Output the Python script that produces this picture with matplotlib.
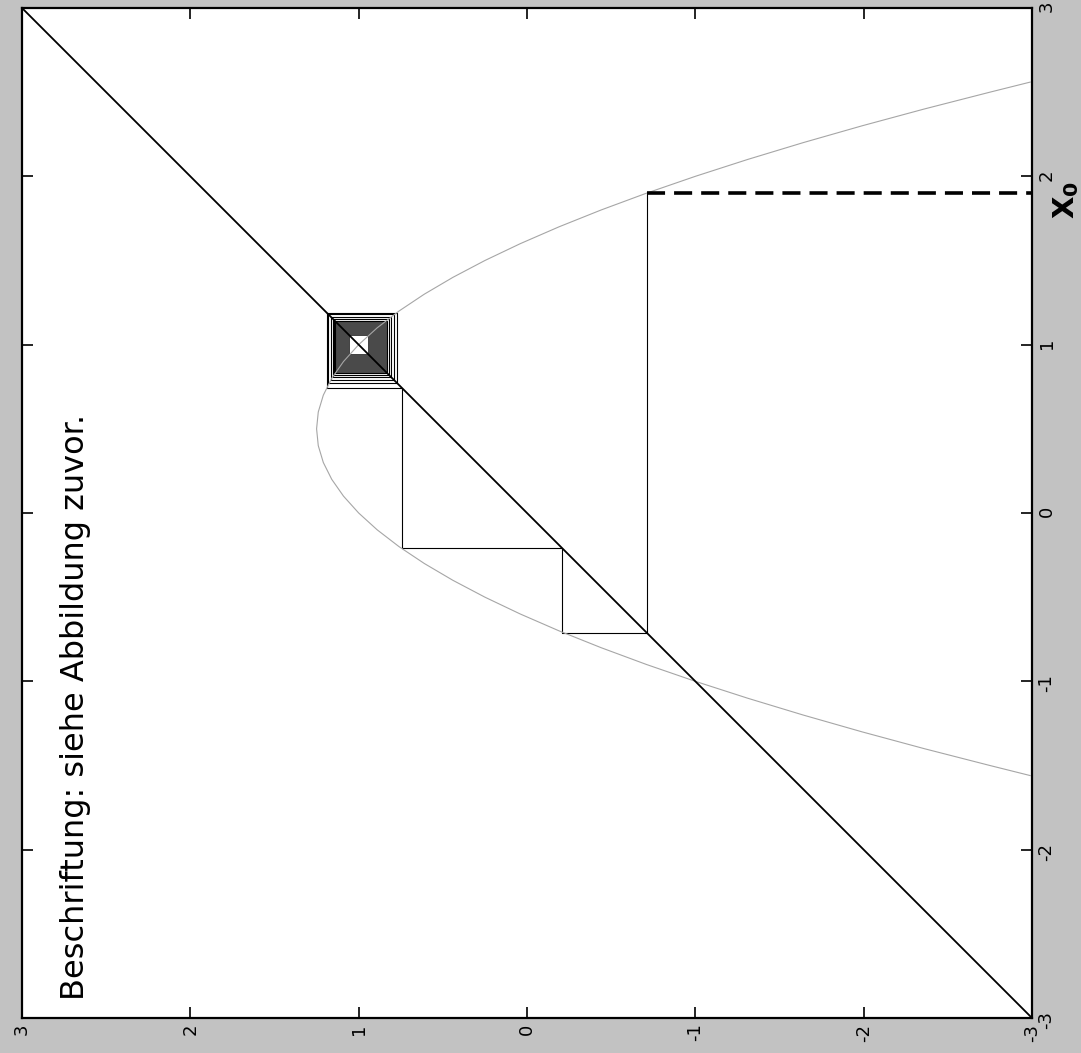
import numpy as np
import matplotlib.pyplot as plt
from matplotlib.patches import Rectangle

plt.rcParams['axes.unicode_minus'] = False

# Parabola: x_n on the vertical axis, x_n+1 on the horizontal one
curve_x = [-1.56, -1.5, -1.4, -1.3, -1.2, -1.1, -1.0, -0.9, -0.8, -0.7, -0.6, -0.5,
           -0.4, -0.3, -0.2, -0.1, 0.0, 0.1, 0.2, 0.3, 0.4, 0.5, 0.6, 0.7, 0.8, 0.9,
           1.0, 1.1, 1.2, 1.3, 1.4, 1.5, 1.6, 1.7, 1.8, 1.9, 2.0, 2.1, 2.2, 2.3, 2.4,
           2.5, 2.56]
curve_y = [-2.99, -2.75, -2.36, -1.99, -1.64, -1.31, -1.0, -0.71, -0.44, -0.19, 0.04, 0.25,
           0.44, 0.61, 0.76, 0.89, 1.0, 1.09, 1.16, 1.21, 1.24, 1.25, 1.24, 1.21, 1.16, 1.09,
           1.0, 0.89, 0.76, 0.61, 0.44, 0.25, 0.04, -0.19, -0.44, -0.71, -1.0, -1.31, -1.64,
           -1.99, -2.36, -2.75, -2.99]

# Cobweb iterates that are still visible as separate lines
orbit = [1.90, -0.71, -0.21, 0.74, 1.19, 0.77, 1.18, 0.79, 1.165, 0.81, 1.155, 0.82, 1.147]

# Dense (dark) core of the cobweb around the fixed point, with the white hole inside
core_lo, core_hi = 0.83, 1.14
hole_lo, hole_hi = 0.945, 1.06

ticks = [-3, -2, -1, 0, 1, 2, 3]
x0_label = r'$\mathbf{X_0}$'
note = 'Beschriftung: siehe Abbildung zuvor.'

# Figure setup (scan is turned 90 degrees, so labels run bottom-to-top)
W, H = 1081, 1053
fig = plt.figure(figsize=(W / 100, H / 100), dpi=100, facecolor='#c2c2c2')
ax = fig.add_axes([22 / W, 1 - 1018 / H, 1010 / W, 1010 / H])
ax.set_facecolor('white')

# cobweb path: (x_n+1, x_n) on the curve -> (x_n+1, x_n+1) on the diagonal
path_h, path_v = [], []
for i in range(1, len(orbit)):
    path_h += [orbit[i], orbit[i]]
    path_v += [orbit[i - 1], orbit[i]]

ax.add_patch(Rectangle((core_lo, core_lo), core_hi - core_lo, core_hi - core_lo,
                       facecolor='#4a4a4a', edgecolor='black', lw=0.8, zorder=2))
ax.add_patch(Rectangle((hole_lo, hole_lo), hole_hi - hole_lo, hole_hi - hole_lo,
                       facecolor='white', edgecolor='#333333', lw=0.6, zorder=2))

ax.plot(path_h, path_v, color='black', lw=0.8, zorder=3)
ax.plot(curve_y, curve_x, color='#a6a6a6', lw=0.8, zorder=4)
ax.plot([ticks[0], ticks[-1]], [ticks[0], ticks[-1]], color='black', lw=1.3, zorder=5)

# dashed marker for the start value
ax.plot([orbit[1], ticks[0]], [orbit[0], orbit[0]], color='black', lw=2.6,
        dashes=(5, 2.5), zorder=5)

ax.set_xlim(3, -3)
ax.set_ylim(-3, 3)
ax.set_xticks(ticks)
ax.set_yticks(ticks)
ax.yaxis.tick_right()
ax.tick_params(direction='in', length=8, width=1.2, top=True, bottom=True,
               left=True, right=True, labelleft=False, labelright=True,
               labelsize=13, labelrotation=90, pad=4)
for s in ax.spines.values():
    s.set_linewidth(1.6)

# handwritten notes
fig.text(1066 / W, 1 - 200 / H, x0_label, rotation=90, ha='center', va='center',
         fontsize=21)
fig.text(84 / W, 1 - 1000 / H, note, rotation=90, rotation_mode='anchor',
         ha='left', va='baseline', fontsize=23)

fig.savefig('out.png', dpi=100, facecolor=fig.get_facecolor())
